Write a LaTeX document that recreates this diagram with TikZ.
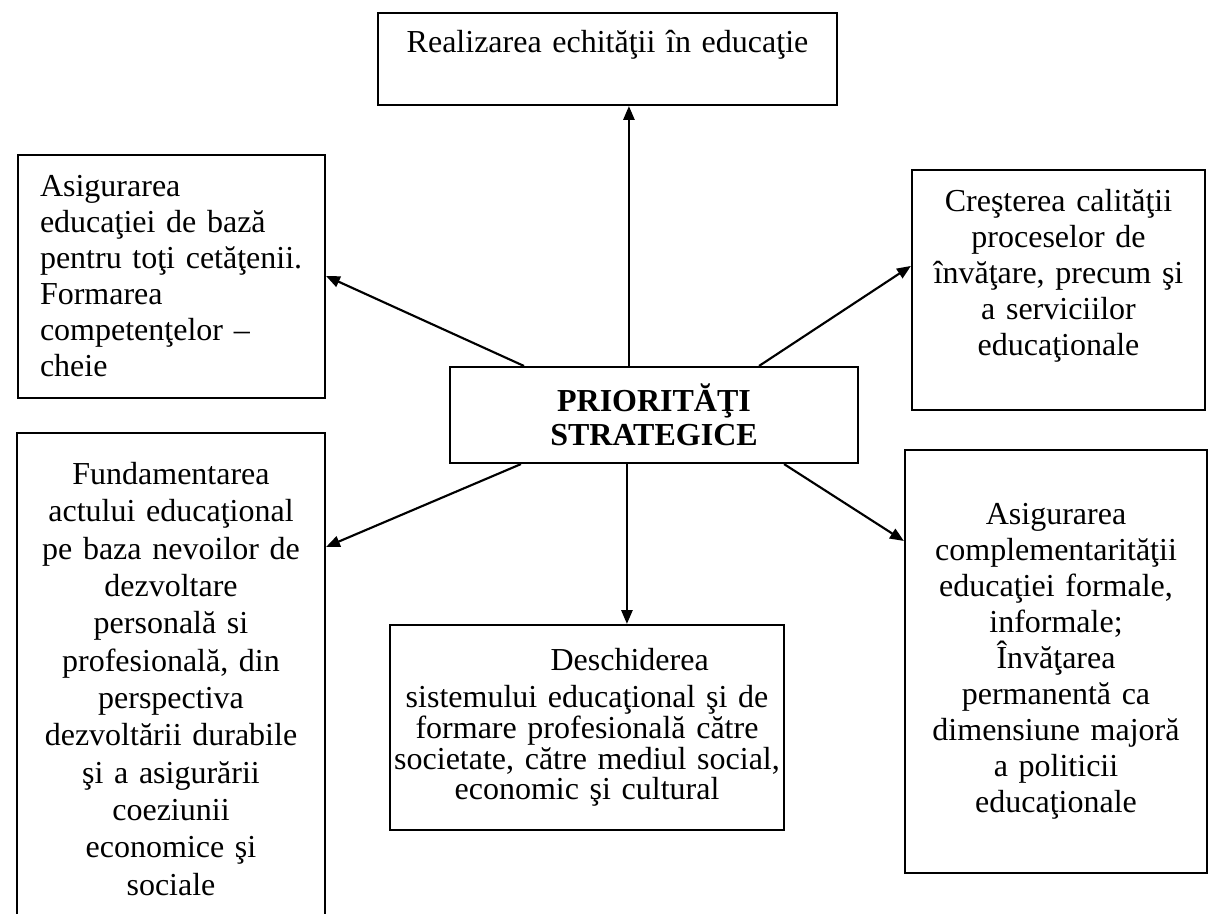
\documentclass[tikz,border=0pt]{standalone}
\usepackage{fontspec}
\setmainfont{Liberation Serif}
\usepackage{tikz}
\usetikzlibrary{shapes,arrows.meta,positioning,calc}

\begin{document}
\begin{tikzpicture}[
        x=0.375pt, y=-0.375pt,
        box/.style={draw, line width=0.8pt, inner xsep=0pt, inner ysep=0pt, align=center, font=\fontsize{12}{13.5}\selectfont},
        mainbox/.style={box, font=\fontsize{12}{12.75}\selectfont\bfseries},
        arrow/.style={-{Triangle[length=5.2pt,width=4.2pt]}, line width=0.8pt}
    ]
        \useasboundingbox (0,0) rectangle (1209,913);
        \clip (0,0) rectangle (1209,913);

        % Central node
        \node[mainbox, text width=153pt, minimum height=36pt] (prio) at (654,415) {PRIORITĂŢI\\ STRATEGICE};

        % Priorities
        \node[box, text width=172.1pt, minimum height=34.5pt] (equity) at (607.5,59) {Realizarea echităţii în educaţie\\ \mbox{}};
        \node[box, align=left, inner xsep=8.25pt, text width=98.6pt, minimum height=91.1pt] (basic) at (171.5,276.5) {Asigurarea\\ educaţiei de bază\\ pentru toţi cetăţenii.\\ Formarea\\ competenţelor --\\ cheie};
        \node[box, text width=109.9pt, minimum height=90pt] (quality) at (1058.5,290) {Creşterea calităţii\\ proceselor de\\ învăţare, precum şi\\ a serviciilor\\ educaţionale\\ \mbox{}};
        \node[box, font=\fontsize{12}{14}\selectfont, text width=115.5pt, minimum height=184.5pt] (basis) at (171,679) {Fundamentarea\\ actului educaţional\\ pe baza nevoilor de\\ dezvoltare\\ personală si\\ profesională, din\\ perspectiva\\ dezvoltării durabile\\ şi a asigurării\\ coeziunii\\ economice şi\\ sociale};
        \node[box, font=\fontsize{12}{11.5}\selectfont, text width=148pt, minimum height=76.9pt] (openness) at (587,727.5) {\hspace*{32pt}Deschiderea\\[2.5pt] sistemului educaţional şi de\\ formare profesională către\\ societate, către mediul social,\\ economic şi cultural};
        \node[box, font=\fontsize{12}{13.5}\selectfont, text width=113.3pt, minimum height=158.6pt] (complement) at (1056,661.5) {Asigurarea\\ complementarităţii\\ educaţiei formale,\\ informale;\\ Învăţarea\\ permanentă ca\\ dimensiune majoră\\ a politicii\\ educaţionale};

        % Arrows
        \draw[arrow] ($(prio.north west)+(180,0)$) coordinate (up) -- (up |- equity.south);
        \draw[arrow] ($(prio.north west)+(75,0)$) -- ($(basic.north east)+(0,122)$);
        \draw[arrow] ($(prio.north east)+(-100,0)$) -- ($(quality.north west)+(0,97)$);
        \draw[arrow] ($(prio.south west)+(72,0)$) -- ($(basis.north east)+(0,115)$);
        \draw[arrow] ($(prio.south west)+(178,0)$) coordinate (down) -- (down |- openness.north);
        \draw[arrow] ($(prio.south east)+(-75,0)$) -- ($(complement.north west)+(0,92)$);
    \end{tikzpicture}
\end{document}
